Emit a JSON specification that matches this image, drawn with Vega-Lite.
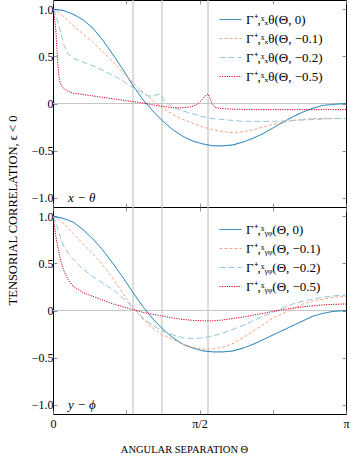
{
  "$schema": "https://vega.github.io/schema/vega-lite/v6.json",
  "padding": {"left": 5, "top": -2, "right": 6, "bottom": 10},
  "spacing": 0,
  "bounds": "flush",
  "datasets": {
    "vlines": [{"t": 0.858}, {"t": 1.169}, {"t": 1.662}],
    "top": [
      {"t":0,"k":"0","v":1.0},{"t":0.107,"k":"0","v":0.99},{"t":0.214,"k":"0","v":0.95},{"t":0.322,"k":"0","v":0.89},{"t":0.429,"k":"0","v":0.80},{"t":0.536,"k":"0","v":0.67},{"t":0.643,"k":"0","v":0.52},{"t":0.751,"k":"0","v":0.36},{"t":0.858,"k":"0","v":0.19},{"t":0.965,"k":"0","v":0.04},{"t":1.072,"k":"0","v":-0.08},{"t":1.179,"k":"0","v":-0.19},{"t":1.287,"k":"0","v":-0.28},{"t":1.394,"k":"0","v":-0.35},{"t":1.501,"k":"0","v":-0.40},{"t":1.608,"k":"0","v":-0.43},{"t":1.716,"k":"0","v":-0.45},{"t":1.823,"k":"0","v":-0.45},{"t":1.930,"k":"0","v":-0.44},{"t":2.037,"k":"0","v":-0.41},{"t":2.144,"k":"0","v":-0.37},{"t":2.252,"k":"0","v":-0.32},{"t":2.359,"k":"0","v":-0.26},{"t":2.466,"k":"0","v":-0.20},{"t":2.573,"k":"0","v":-0.14},{"t":2.681,"k":"0","v":-0.09},{"t":2.788,"k":"0","v":-0.05},{"t":2.895,"k":"0","v":-0.02},{"t":3.002,"k":"0","v":-0.01},{"t":3.1416,"k":"0","v":0},
      {"t":0,"k":"−0.1","v":1.0},{"t":0.054,"k":"−0.1","v":0.97},{"t":0.107,"k":"−0.1","v":0.93},{"t":0.214,"k":"−0.1","v":0.83},{"t":0.322,"k":"−0.1","v":0.74},{"t":0.429,"k":"−0.1","v":0.65},{"t":0.536,"k":"−0.1","v":0.55},{"t":0.643,"k":"−0.1","v":0.44},{"t":0.751,"k":"−0.1","v":0.33},{"t":0.858,"k":"−0.1","v":0.22},{"t":0.965,"k":"−0.1","v":0.12},{"t":1.072,"k":"−0.1","v":0.03},{"t":1.179,"k":"−0.1","v":-0.05},{"t":1.287,"k":"−0.1","v":-0.12},{"t":1.394,"k":"−0.1","v":-0.17},{"t":1.501,"k":"−0.1","v":-0.21},{"t":1.608,"k":"−0.1","v":-0.25},{"t":1.716,"k":"−0.1","v":-0.28},{"t":1.823,"k":"−0.1","v":-0.30},{"t":1.930,"k":"−0.1","v":-0.31},{"t":2.037,"k":"−0.1","v":-0.30},{"t":2.144,"k":"−0.1","v":-0.28},{"t":2.252,"k":"−0.1","v":-0.25},{"t":2.359,"k":"−0.1","v":-0.22},{"t":2.466,"k":"−0.1","v":-0.20},{"t":2.573,"k":"−0.1","v":-0.18},{"t":2.681,"k":"−0.1","v":-0.17},{"t":2.788,"k":"−0.1","v":-0.16},{"t":2.895,"k":"−0.1","v":-0.16},{"t":3.002,"k":"−0.1","v":-0.16},{"t":3.1416,"k":"−0.1","v":-0.16},
      {"t":0,"k":"−0.2","v":1.0},{"t":0.021,"k":"−0.2","v":0.97},{"t":0.032,"k":"−0.2","v":0.93},{"t":0.054,"k":"−0.2","v":0.86},{"t":0.086,"k":"−0.2","v":0.74},{"t":0.118,"k":"−0.2","v":0.62},{"t":0.161,"k":"−0.2","v":0.53},{"t":0.214,"k":"−0.2","v":0.48},{"t":0.322,"k":"−0.2","v":0.44},{"t":0.429,"k":"−0.2","v":0.40},{"t":0.536,"k":"−0.2","v":0.35},{"t":0.643,"k":"−0.2","v":0.30},{"t":0.751,"k":"−0.2","v":0.24},{"t":0.858,"k":"−0.2","v":0.17},{"t":0.965,"k":"−0.2","v":0.11},{"t":1.019,"k":"−0.2","v":0.08},{"t":1.072,"k":"−0.2","v":0.08},{"t":1.137,"k":"−0.2","v":0.10},{"t":1.160,"k":"−0.2","v":0.09},{"t":1.179,"k":"−0.2","v":0.05},{"t":1.233,"k":"−0.2","v":0.0},{"t":1.287,"k":"−0.2","v":-0.04},{"t":1.394,"k":"−0.2","v":-0.08},{"t":1.501,"k":"−0.2","v":-0.11},{"t":1.608,"k":"−0.2","v":-0.14},{"t":1.716,"k":"−0.2","v":-0.16},{"t":1.823,"k":"−0.2","v":-0.17},{"t":1.930,"k":"−0.2","v":-0.18},{"t":2.037,"k":"−0.2","v":-0.19},{"t":2.144,"k":"−0.2","v":-0.19},{"t":2.359,"k":"−0.2","v":-0.19},{"t":2.573,"k":"−0.2","v":-0.18},{"t":2.788,"k":"−0.2","v":-0.17},{"t":3.002,"k":"−0.2","v":-0.16},{"t":3.1416,"k":"−0.2","v":-0.16},
      {"t":0,"k":"−0.5","v":1.0},{"t":0.011,"k":"−0.5","v":0.95},{"t":0.021,"k":"−0.5","v":0.87},{"t":0.032,"k":"−0.5","v":0.76},{"t":0.043,"k":"−0.5","v":0.56},{"t":0.054,"k":"−0.5","v":0.39},{"t":0.064,"k":"−0.5","v":0.28},{"t":0.075,"k":"−0.5","v":0.22},{"t":0.096,"k":"−0.5","v":0.18},{"t":0.118,"k":"−0.5","v":0.16},{"t":0.161,"k":"−0.5","v":0.13},{"t":0.214,"k":"−0.5","v":0.11},{"t":0.322,"k":"−0.5","v":0.095},{"t":0.429,"k":"−0.5","v":0.08},{"t":0.536,"k":"−0.5","v":0.065},{"t":0.643,"k":"−0.5","v":0.05},{"t":0.751,"k":"−0.5","v":0.035},{"t":0.858,"k":"−0.5","v":0.02},{"t":0.965,"k":"−0.5","v":0.005},{"t":1.072,"k":"−0.5","v":-0.015},{"t":1.179,"k":"−0.5","v":-0.03},{"t":1.287,"k":"−0.5","v":-0.045},{"t":1.394,"k":"−0.5","v":-0.045},{"t":1.480,"k":"−0.5","v":-0.035},{"t":1.544,"k":"−0.5","v":-0.01},{"t":1.587,"k":"−0.5","v":0.03},{"t":1.630,"k":"−0.5","v":0.08},{"t":1.662,"k":"−0.5","v":0.10},{"t":1.683,"k":"−0.5","v":0.06},{"t":1.705,"k":"−0.5","v":0.0},{"t":1.737,"k":"−0.5","v":-0.04},{"t":1.801,"k":"−0.5","v":-0.055},{"t":1.930,"k":"−0.5","v":-0.06},{"t":2.144,"k":"−0.5","v":-0.065},{"t":2.573,"k":"−0.5","v":-0.065},{"t":3.1416,"k":"−0.5","v":-0.065}
    ],
    "bottom": [
      {"t":0,"k":"0","v":1.0},{"t":0.107,"k":"0","v":0.98},{"t":0.214,"k":"0","v":0.94},{"t":0.322,"k":"0","v":0.86},{"t":0.429,"k":"0","v":0.76},{"t":0.536,"k":"0","v":0.64},{"t":0.643,"k":"0","v":0.50},{"t":0.751,"k":"0","v":0.35},{"t":0.858,"k":"0","v":0.19},{"t":0.965,"k":"0","v":0.04},{"t":1.072,"k":"0","v":-0.09},{"t":1.179,"k":"0","v":-0.20},{"t":1.287,"k":"0","v":-0.29},{"t":1.394,"k":"0","v":-0.36},{"t":1.501,"k":"0","v":-0.40},{"t":1.608,"k":"0","v":-0.43},{"t":1.716,"k":"0","v":-0.44},{"t":1.823,"k":"0","v":-0.44},{"t":1.930,"k":"0","v":-0.43},{"t":2.037,"k":"0","v":-0.40},{"t":2.144,"k":"0","v":-0.36},{"t":2.252,"k":"0","v":-0.31},{"t":2.359,"k":"0","v":-0.26},{"t":2.466,"k":"0","v":-0.21},{"t":2.573,"k":"0","v":-0.16},{"t":2.681,"k":"0","v":-0.11},{"t":2.788,"k":"0","v":-0.06},{"t":2.895,"k":"0","v":-0.03},{"t":3.002,"k":"0","v":-0.01},{"t":3.1416,"k":"0","v":0},
      {"t":0,"k":"−0.1","v":1.0},{"t":0.054,"k":"−0.1","v":0.97},{"t":0.107,"k":"−0.1","v":0.93},{"t":0.214,"k":"−0.1","v":0.82},{"t":0.322,"k":"−0.1","v":0.71},{"t":0.429,"k":"−0.1","v":0.60},{"t":0.536,"k":"−0.1","v":0.48},{"t":0.643,"k":"−0.1","v":0.34},{"t":0.751,"k":"−0.1","v":0.18},{"t":0.858,"k":"−0.1","v":0.03},{"t":0.965,"k":"−0.1","v":-0.09},{"t":1.072,"k":"−0.1","v":-0.19},{"t":1.179,"k":"−0.1","v":-0.26},{"t":1.287,"k":"−0.1","v":-0.31},{"t":1.394,"k":"−0.1","v":-0.36},{"t":1.501,"k":"−0.1","v":-0.39},{"t":1.608,"k":"−0.1","v":-0.41},{"t":1.716,"k":"−0.1","v":-0.41},{"t":1.823,"k":"−0.1","v":-0.39},{"t":1.930,"k":"−0.1","v":-0.35},{"t":2.037,"k":"−0.1","v":-0.29},{"t":2.144,"k":"−0.1","v":-0.22},{"t":2.252,"k":"−0.1","v":-0.15},{"t":2.359,"k":"−0.1","v":-0.08},{"t":2.466,"k":"−0.1","v":-0.03},{"t":2.573,"k":"−0.1","v":0.02},{"t":2.681,"k":"−0.1","v":0.07},{"t":2.788,"k":"−0.1","v":0.10},{"t":2.895,"k":"−0.1","v":0.12},{"t":3.002,"k":"−0.1","v":0.14},{"t":3.1416,"k":"−0.1","v":0.15},
      {"t":0,"k":"−0.2","v":1.0},{"t":0.032,"k":"−0.2","v":0.93},{"t":0.054,"k":"−0.2","v":0.86},{"t":0.086,"k":"−0.2","v":0.76},{"t":0.118,"k":"−0.2","v":0.68},{"t":0.161,"k":"−0.2","v":0.61},{"t":0.214,"k":"−0.2","v":0.55},{"t":0.322,"k":"−0.2","v":0.44},{"t":0.429,"k":"−0.2","v":0.36},{"t":0.536,"k":"−0.2","v":0.29},{"t":0.643,"k":"−0.2","v":0.22},{"t":0.751,"k":"−0.2","v":0.13},{"t":0.858,"k":"−0.2","v":0.03},{"t":0.965,"k":"−0.2","v":-0.08},{"t":1.072,"k":"−0.2","v":-0.16},{"t":1.179,"k":"−0.2","v":-0.22},{"t":1.287,"k":"−0.2","v":-0.26},{"t":1.394,"k":"−0.2","v":-0.29},{"t":1.501,"k":"−0.2","v":-0.30},{"t":1.608,"k":"−0.2","v":-0.29},{"t":1.716,"k":"−0.2","v":-0.27},{"t":1.823,"k":"−0.2","v":-0.24},{"t":1.930,"k":"−0.2","v":-0.20},{"t":2.037,"k":"−0.2","v":-0.16},{"t":2.144,"k":"−0.2","v":-0.11},{"t":2.252,"k":"−0.2","v":-0.06},{"t":2.359,"k":"−0.2","v":-0.02},{"t":2.466,"k":"−0.2","v":0.03},{"t":2.573,"k":"−0.2","v":0.07},{"t":2.681,"k":"−0.2","v":0.10},{"t":2.788,"k":"−0.2","v":0.12},{"t":2.895,"k":"−0.2","v":0.14},{"t":3.002,"k":"−0.2","v":0.155},{"t":3.1416,"k":"−0.2","v":0.165},
      {"t":0,"k":"−0.5","v":1.0},{"t":0.011,"k":"−0.5","v":0.93},{"t":0.021,"k":"−0.5","v":0.86},{"t":0.032,"k":"−0.5","v":0.78},{"t":0.054,"k":"−0.5","v":0.66},{"t":0.086,"k":"−0.5","v":0.52},{"t":0.118,"k":"−0.5","v":0.42},{"t":0.161,"k":"−0.5","v":0.33},{"t":0.214,"k":"−0.5","v":0.26},{"t":0.322,"k":"−0.5","v":0.19},{"t":0.429,"k":"−0.5","v":0.15},{"t":0.536,"k":"−0.5","v":0.11},{"t":0.643,"k":"−0.5","v":0.07},{"t":0.751,"k":"−0.5","v":0.04},{"t":0.858,"k":"−0.5","v":0.01},{"t":0.965,"k":"−0.5","v":-0.02},{"t":1.072,"k":"−0.5","v":-0.04},{"t":1.179,"k":"−0.5","v":-0.06},{"t":1.287,"k":"−0.5","v":-0.08},{"t":1.394,"k":"−0.5","v":-0.095},{"t":1.501,"k":"−0.5","v":-0.105},{"t":1.608,"k":"−0.5","v":-0.11},{"t":1.716,"k":"−0.5","v":-0.11},{"t":1.823,"k":"−0.5","v":-0.10},{"t":1.930,"k":"−0.5","v":-0.085},{"t":2.037,"k":"−0.5","v":-0.07},{"t":2.144,"k":"−0.5","v":-0.05},{"t":2.252,"k":"−0.5","v":-0.03},{"t":2.359,"k":"−0.5","v":-0.01},{"t":2.466,"k":"−0.5","v":0.01},{"t":2.573,"k":"−0.5","v":0.025},{"t":2.681,"k":"−0.5","v":0.04},{"t":2.788,"k":"−0.5","v":0.05},{"t":2.895,"k":"−0.5","v":0.06},{"t":3.002,"k":"−0.5","v":0.065},{"t":3.1416,"k":"−0.5","v":0.07}
    ]
  },
  "vconcat": [
    {
      "width": 293,
      "height": 207,
      "layer": [
        {
          "data": {"name": "vlines"},
          "mark": {"type": "rule", "color": "#c6c6c6", "strokeWidth": 1.2},
          "encoding": {"x": {"field": "t", "type": "quantitative", "scale": {"domain": [0, 3.1416], "nice": false, "zero": false}, "axis": null}}
        },
        {
          "data": {"values": [{}]},
          "mark": {"type": "rule", "color": "#c6c6c6", "strokeWidth": 1.2},
          "encoding": {"y": {"datum": 0, "type": "quantitative", "scale": {"domain": [-1.1, 1.1], "nice": false, "zero": false}, "axis": null}}
        },
        {
          "data": {"name": "top"},
          "mark": {"type": "line", "strokeWidth": 1},
          "encoding": {
            "x": {"field": "t", "type": "quantitative", "scale": {"domain": [0, 3.1416], "nice": false, "zero": false},
              "axis": {"orient": "bottom", "values": [0, 0.7854, 1.5708, 2.3562, 3.1416], "labels": false, "title": null}},
            "y": {"field": "v", "type": "quantitative", "scale": {"domain": [-1.1, 1.1], "nice": false, "zero": false},
              "axis": {"orient": "left", "values": [-1, -0.5, 0, 0.5, 1], "labelPadding": 4, "labelExpr": "datum.value == 0 ? '0' : replace(format(datum.value, '.1f'), '-', '−')",
                "title": "TENSORIAL CORRELATION,  ϵ < 0", "titleX": -41, "titleY": 210, "titleAngle": -90, "titleAlign": "center", "titleBaseline": "middle", "titleFontSize": 12.5}},
            "color": {"field": "k", "type": "nominal", "scale": {"domain": ["0", "−0.1", "−0.2", "−0.5"], "range": ["#0571b0", "#f4a582", "#92c5de", "#ca0020"]},
              "legend": {"orient": "none", "legendX": 166, "legendY": 8, "labelExpr": "'Γ⁺,ˣₓθ(Θ, ' + datum.label + ')'"}},
            "strokeDash": {"field": "k", "type": "nominal", "scale": {"domain": ["0", "−0.1", "−0.2", "−0.5"], "range": [[1, 0], [3, 2], [6, 3], [1.2, 1.2]]},
              "legend": {"orient": "none", "legendX": 166, "legendY": 8, "labelExpr": "'Γ⁺,ˣₓθ(Θ, ' + datum.label + ')'"}}
          }
        },
        {
          "data": {"values": [{}]},
          "mark": {"type": "text", "align": "left", "baseline": "middle", "fontStyle": "italic", "fontSize": 13, "color": "#000"},
          "encoding": {
            "x": {"datum": 0.16, "type": "quantitative", "scale": {"domain": [0, 3.1416], "nice": false, "zero": false}, "axis": null},
            "y": {"datum": -1.0, "type": "quantitative", "scale": {"domain": [-1.1, 1.1], "nice": false, "zero": false}, "axis": null},
            "text": {"value": "x − θ"}
          }
        },
        {
          "data": {"name": "top"},
          "mark": {"type": "point", "opacity": 0},
          "encoding": {
            "x": {"field": "t", "type": "quantitative", "scale": {"domain": [0, 3.1416], "nice": false, "zero": false},
              "axis": {"orient": "top", "values": [0, 0.7854, 1.5708, 2.3562, 3.1416], "labels": false, "title": null}},
            "y": {"field": "v", "type": "quantitative", "scale": {"domain": [-1.1, 1.1], "nice": false, "zero": false},
              "axis": {"orient": "right", "values": [-1, -0.5, 0, 0.5, 1], "labels": false, "title": null, "minExtent": 0}}
          }
        }
      ],
      "resolve": {"axis": {"x": "independent", "y": "independent"}}
    },
    {
      "width": 293,
      "height": 207,
      "layer": [
        {
          "data": {"name": "vlines"},
          "mark": {"type": "rule", "color": "#c6c6c6", "strokeWidth": 1.2},
          "encoding": {"x": {"field": "t", "type": "quantitative", "scale": {"domain": [0, 3.1416], "nice": false, "zero": false}, "axis": null}}
        },
        {
          "data": {"values": [{}]},
          "mark": {"type": "rule", "color": "#c6c6c6", "strokeWidth": 1.2},
          "encoding": {"y": {"datum": 0, "type": "quantitative", "scale": {"domain": [-1.1, 1.1], "nice": false, "zero": false}, "axis": null}}
        },
        {
          "data": {"name": "bottom"},
          "mark": {"type": "line", "strokeWidth": 1},
          "encoding": {
            "x": {"field": "t", "type": "quantitative", "scale": {"domain": [0, 3.1416], "nice": false, "zero": false},
              "axis": {"orient": "bottom", "values": [0, 0.7854, 1.5708, 2.3562, 3.1416],
                "labelExpr": "abs(datum.value) < 0.01 ? '0' : abs(datum.value - 1.5708) < 0.01 ? 'π/2' : abs(datum.value - 3.1416) < 0.01 ? 'π' : ''",
                "labelFlush": false, "labelOverlap": false, "labelPadding": 8,
                "title": "ANGULAR SEPARATION   Θ", "titleX": 131, "titleY": 35, "titleBaseline": "middle", "titleAlign": "center", "titleFontSize": 10.5}},
            "y": {"field": "v", "type": "quantitative", "scale": {"domain": [-1.1, 1.1], "nice": false, "zero": false},
              "axis": {"orient": "left", "values": [-1, -0.5, 0, 0.5, 1], "labelPadding": 4, "labelExpr": "datum.value == 0 ? '0' : replace(format(datum.value, '.1f'), '-', '−')", "title": null}},
            "color": {"field": "k", "type": "nominal", "scale": {"domain": ["0", "−0.1", "−0.2", "−0.5"], "range": ["#0571b0", "#f4a582", "#92c5de", "#ca0020"]},
              "legend": {"orient": "none", "legendX": 166, "legendY": 11, "labelExpr": "'Γ⁺,ˣᵧᵩ(Θ, ' + datum.label + ')'"}},
            "strokeDash": {"field": "k", "type": "nominal", "scale": {"domain": ["0", "−0.1", "−0.2", "−0.5"], "range": [[1, 0], [3, 2], [6, 3], [1.2, 1.2]]},
              "legend": {"orient": "none", "legendX": 166, "legendY": 11, "labelExpr": "'Γ⁺,ˣᵧᵩ(Θ, ' + datum.label + ')'"}}
          }
        },
        {
          "data": {"values": [{}]},
          "mark": {"type": "text", "align": "left", "baseline": "middle", "fontStyle": "italic", "fontSize": 13, "color": "#000"},
          "encoding": {
            "x": {"datum": 0.16, "type": "quantitative", "scale": {"domain": [0, 3.1416], "nice": false, "zero": false}, "axis": null},
            "y": {"datum": -1.0, "type": "quantitative", "scale": {"domain": [-1.1, 1.1], "nice": false, "zero": false}, "axis": null},
            "text": {"value": "y − ϕ"}
          }
        },
        {
          "data": {"name": "bottom"},
          "mark": {"type": "point", "opacity": 0},
          "encoding": {
            "x": {"field": "t", "type": "quantitative", "scale": {"domain": [0, 3.1416], "nice": false, "zero": false},
              "axis": {"orient": "top", "values": [0, 0.7854, 1.5708, 2.3562, 3.1416], "labels": false, "title": null}},
            "y": {"field": "v", "type": "quantitative", "scale": {"domain": [-1.1, 1.1], "nice": false, "zero": false},
              "axis": {"orient": "right", "values": [-1, -0.5, 0, 0.5, 1], "labels": false, "title": null, "minExtent": 0}}
          }
        }
      ],
      "resolve": {"axis": {"x": "independent", "y": "independent"}}
    }
  ],
  "resolve": {"scale": {"color": "independent", "strokeDash": "independent"}, "legend": {"color": "independent", "strokeDash": "independent"}},
  "config": {
    "font": "Liberation Serif",
    "view": {"stroke": "#000", "strokeWidth": 1},
    "axis": {"grid": false, "domain": false, "ticks": true, "tickSize": -4, "tickColor": "#777", "tickWidth": 0.8, "labelPadding": 8,
      "labelFont": "Liberation Serif", "labelFontSize": 12, "labelColor": "#000", "titleFont": "Liberation Serif", "titleFontWeight": "normal", "titleColor": "#000"},
    "legend": {"title": null, "padding": 0, "symbolType": "stroke", "symbolSize": 484, "symbolStrokeWidth": 1, "rowPadding": -2, "labelOffset": 4,
      "labelFont": "Liberation Serif", "labelFontSize": 13, "labelColor": "#000", "labelLimit": 200}
  }
}
